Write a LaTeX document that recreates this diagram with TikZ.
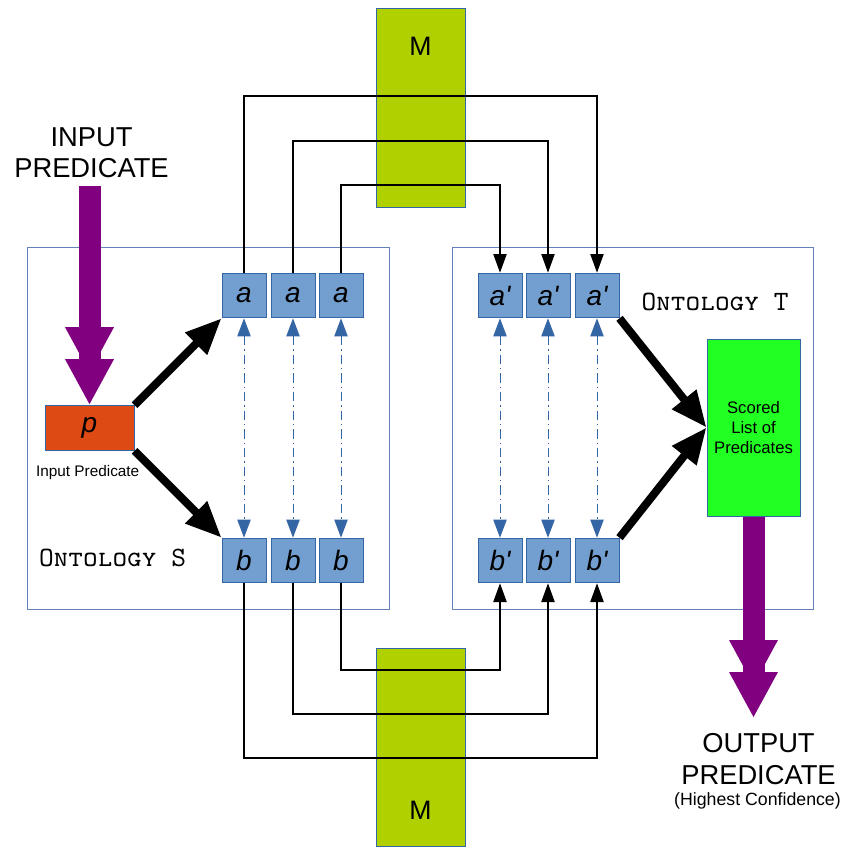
\documentclass[tikz,border=0pt]{standalone}
\usepackage{fontspec}
\setmainfont{Liberation Sans}
\usetikzlibrary{arrows.meta}

\definecolor{boxblue}{RGB}{114,159,207}
\definecolor{edgeblue}{RGB}{52,101,164}
\definecolor{ontblue}{RGB}{100,130,185}
\definecolor{mgreen}{RGB}{176,208,0}
\definecolor{predorange}{RGB}{222,74,20}
\definecolor{listgreen}{RGB}{34,255,34}
\definecolor{bigpurple}{RGB}{128,0,128}

\tikzset{
  ent/.style={draw=edgeblue, fill=boxblue, line width=0.75pt, minimum width=33pt,
    minimum height=33.5pt, inner sep=0pt, font=\fontsize{21}{21}\selectfont\itshape},
  onto/.style={draw=ontblue, line width=0.75pt, minimum height=271.5pt, inner sep=0pt},
  mapper/.style={draw=edgeblue, fill=mgreen, line width=0.75pt, minimum width=66.75pt, inner sep=0pt},
  ontlabel/.style={font=\fontsize{21}{21}\selectfont\ttfamily\scshape},
  big/.style={font=\fontsize{20.5}{23.5}\selectfont, align=center},
  link/.style={line width=0.9pt, -{Triangle[length=14pt,width=10pt]}},
  corr/.style={edgeblue, line width=0.75pt, dash pattern=on 7pt off 3pt on 1pt off 3pt,
    {Triangle[length=13.5pt,width=10pt]}-{Triangle[length=13.5pt,width=10pt]}},
  push/.style={line width=6pt, -{Triangle[length=27pt,width=22pt]}},
  flow/.style={bigpurple, line width=16.5pt, -{Triangle[length=34.5pt,width=34pt]}},
}

\begin{document}
\begin{tikzpicture}[x=0.75pt, y=-0.75pt]
  \useasboundingbox (0,0) rectangle (849,846);

  % mapping blocks
  \node[mapper, minimum height=149.25pt,
    label={[anchor=center, yshift=-29.25pt, font=\fontsize{20}{20}\selectfont]north:M}] (mtop) at (420.5,107.5) {};
  \node[mapper, minimum height=148.5pt,
    label={[anchor=center, yshift=27pt, font=\fontsize{20}{20}\selectfont]south:M}] (mbot) at (420.5,747) {};

  % ontologies
  \node[onto, minimum width=271.5pt] (ontS) at (208,428) {};
  \node[onto, minimum width=270.75pt] (ontT) at (632.5,428) {};
  \node[ontlabel] (labS) at (112.5,558) {Ontology S};
  \node[ontlabel] (labT) at (715,302) {Ontology T};

  \node[ent] (a1) at (244,295.5) {a};
  \node[ent] (a2) at (293,295.5) {a};
  \node[ent] (a3) at (341,295.5) {a};
  \node[ent] (b1) at (244,560.5) {b};
  \node[ent] (b2) at (293,560.5) {b};
  \node[ent] (b3) at (341,560.5) {b};

  \node[ent] (ap1) at (500,295.5) {a\textquotesingle};
  \node[ent] (ap2) at (548,295.5) {a\textquotesingle};
  \node[ent] (ap3) at (597,295.5) {a\textquotesingle};
  \node[ent] (bp1) at (500,560.5) {b\textquotesingle};
  \node[ent] (bp2) at (548,560.5) {b\textquotesingle};
  \node[ent] (bp3) at (597,560.5) {b\textquotesingle};

  \node[ent, fill=predorange, minimum width=66.75pt] (p) at (89.5,428) {p};
  \node[font=\fontsize{11.5}{13}\selectfont] (plab) at (87.7,473) {Input Predicate};

  \node[draw=edgeblue, fill=listgreen, line width=0.75pt, minimum width=69.75pt,
    minimum height=132.75pt, align=center, font=\fontsize{12.5}{15}\selectfont] (list) at (753.5,427.5)
    {Scored\\List of\\Predicates};

  \node[big] (inp) at (91.5,152.5) {INPUT\\PREDICATE};
  \node[big] (outp) at (758.5,759) {OUTPUT\\PREDICATE};
  \node[font=\fontsize{13.3}{15}\selectfont] (conf) at (757.5,801) {(Highest Confidence)};

  % routes through M
  \coordinate (up1) at (420,96);
  \coordinate (up2) at (420,141);
  \coordinate (up3) at (420,185);
  \coordinate (dn1) at (420,758);
  \coordinate (dn2) at (420,714);
  \coordinate (dn3) at (420,670);

  \draw[link] (a1.north) |- (up1) -| (ap3.north);
  \draw[link] (a2.north) |- (up2) -| (ap2.north);
  \draw[link] (a3.north) |- (up3) -| (ap1.north);
  \draw[link] (b1.south) |- (dn1) -| (bp3.south);
  \draw[link] (b2.south) |- (dn2) -| (bp2.south);
  \draw[link] (b3.south) |- (dn3) -| (bp1.south);

  \draw[corr] (a1.south) -- (b1.north);
  \draw[corr] (a2.south) -- (b2.north);
  \draw[corr] (a3.south) -- (b3.north);
  \draw[corr] (ap1.south) -- (bp1.north);
  \draw[corr] (ap2.south) -- (bp2.north);
  \draw[corr] (ap3.south) -- (bp3.north);

  \draw[push] (p.north east) -- (a1.south west);
  \draw[push] (p.south east) -- (b1.north west);
  \draw[push] (ap3.south east) -- (list.west);
  \draw[push] (bp3.north east) -- (list.west);

  % predicate in and out (double heads)
  \coordinate (instart) at (89.5,186);
  \coordinate (outend) at (753.5,718);
  \draw[flow] (instart) -- ([yshift=24pt]p.north);
  \draw[flow] (instart) -- (p.north);
  \draw[flow] (list.south) -- ([yshift=24pt]outend);
  \draw[flow] (list.south) -- (outend);
\end{tikzpicture}
\end{document}
